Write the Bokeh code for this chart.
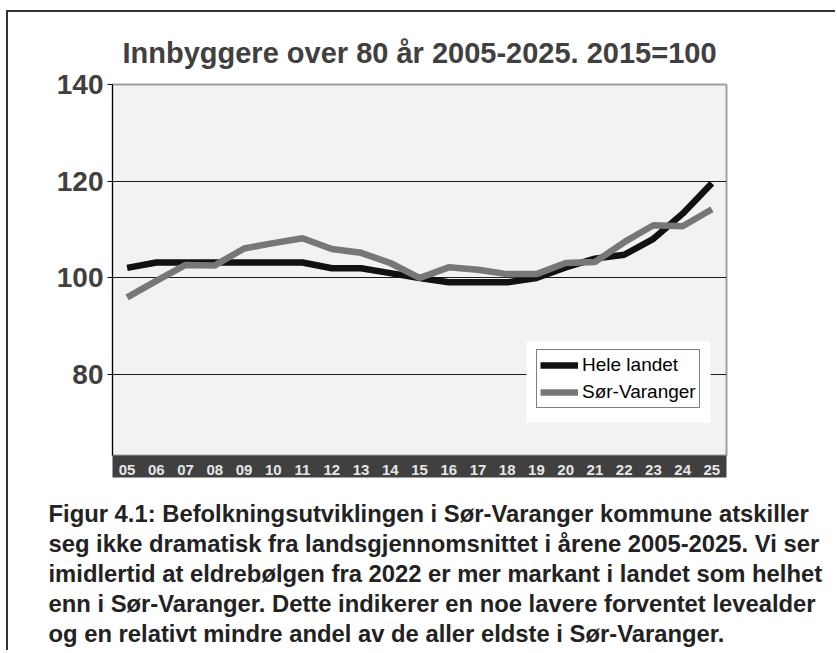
from bokeh.plotting import figure
from bokeh.models import (Range1d, FactorRange, FixedTicker, Legend, LegendItem,
                          BoxAnnotation, Title, ColumnDataSource)
from bokeh.embed import file_html
from bokeh.resources import INLINE

# ---- data ----
years = ["05", "06", "07", "08", "09", "10", "11", "12", "13", "14", "15",
         "16", "17", "18", "19", "20", "21", "22", "23", "24", "25"]
hele_landet = [102.1, 103.2, 103.2, 103.2, 103.2, 103.2, 103.2, 102.0, 102.0, 101.0, 100.0,
               99.1, 99.1, 99.1, 100.0, 102.2, 104.0, 104.8, 108.1, 113.3, 119.6]
sor_varanger = [96.0, 99.4, 102.7, 102.6, 106.1, 107.2, 108.2, 106.0, 105.2, 103.1, 100.0,
                102.2, 101.7, 100.8, 100.8, 103.1, 103.3, 107.4, 110.9, 110.7, 114.2]
y_ticks = [80, 100, 120, 140]
series_names = ["Hele landet", "Sør-Varanger"]
title_text = "Innbyggere over 80 år 2005-2025. 2015=100"
caption_lines = [
    "Figur 4.1: Befolkningsutviklingen i Sør-Varanger kommune atskiller",
    "seg ikke dramatisk fra landsgjennomsnittet i årene 2005-2025. Vi ser",
    "imidlertid at eldrebølgen fra 2022 er mer markant i landet som helhet",
    "enn i Sør-Varanger. Dette indikerer en noe lavere forventet levealder",
    "og en relativt mindre andel av de aller eldste i Sør-Varanger.",
]

FONT = "Liberation Sans"
OX, OY = 6, 10                      # canvas origin on the page (css margin)
W, H = 829, 640
PFL, PFR, PFT, PFB = 112, 726, 84, 455   # frame edges on the page
FL, FR, FT, FB = PFL - OX, PFR - OX, PFT - OY, PFB - OY

src = ColumnDataSource(dict(year=years, hele=hele_landet, sor=sor_varanger))

Y0, Y1 = 63.3, 140
p = figure(width=W, height=H, output_backend="svg", toolbar_location=None,
           x_range=FactorRange(*years, range_padding=0),
           y_range=Range1d(Y0, Y1),
           min_border_left=FL, min_border_right=W - FR,
           min_border_top=FT, min_border_bottom=H - FB)
# outer frame: dark lines along the top and left edge of the chart box
p.styles = {
    "margin-left": "6px", "margin-top": "10px", "margin-bottom": "-20px",
    "vertical-align": "top", "overflow": "hidden",
    "background": ("linear-gradient(#333333, #333333) left top / 100% 2px no-repeat, "
                   "linear-gradient(#333333, #333333) left top / 2px 100% no-repeat"),
}

p.background_fill_color = "#f2f2f2"
p.border_fill_color = None
p.outline_line_color = "#a0a0a0"
p.outline_line_width = 2

# title
p.title.text = title_text
p.title.align = "center"
p.title.text_font = FONT
p.title.text_font_size = "29px"
p.title.text_font_style = "bold"
p.title.text_color = "#404040"
p.title.standoff = 32

# y axis
p.yaxis.ticker = FixedTicker(ticks=y_ticks)
p.yaxis.major_label_text_font = FONT
p.yaxis.major_label_text_font_size = "28px"
p.yaxis.major_label_text_font_style = "bold"
p.yaxis.major_label_text_color = "#404040"
p.yaxis.major_tick_out = 5
p.yaxis.major_tick_in = 0
p.yaxis.minor_tick_line_color = None
p.yaxis.axis_line_color = "black"
p.yaxis.major_tick_line_color = "black"
p.yaxis.major_label_standoff = 4

# x axis
p.xaxis.major_label_text_font = FONT
p.xaxis.major_label_text_font_size = "15px"
p.xaxis.major_label_text_font_style = "bold"
p.xaxis.major_label_text_color = "#e6e6e6"
p.xaxis.major_tick_line_color = None
p.xaxis.axis_line_color = None
p.xaxis.major_label_standoff = 3
try:
    p.xaxis.background_fill_color = "#404040"
except Exception:
    pass

# grid
p.xgrid.grid_line_color = None
p.ygrid.ticker = FixedTicker(ticks=y_ticks)
p.ygrid.grid_line_color = "#1a1a1a"
p.ygrid.grid_line_width = 1

# lines
r_hele = p.line("year", "hele", source=src, line_color="#111111", line_width=6.5)
r_sor = p.line("year", "sor", source=src, line_color="#777777", line_width=6.5)

# helpers: page pixel -> data coordinate (annotation placement only)
n = len(years)
px_x = (PFR - PFL) / n
px_y = (PFB - PFT) / (Y1 - Y0)
def dx(px):
    return (px - PFL) / px_x
def dy(py):
    return Y1 - (py - PFT) / px_y

# white backing behind legend
p.add_layout(BoxAnnotation(left=dx(526), right=dx(710), top=dy(341), bottom=dy(422),
                           fill_color="white", fill_alpha=1, line_color=None))

legend = Legend(items=[LegendItem(label=series_names[0], renderers=[r_hele]),
                       LegendItem(label=series_names[1], renderers=[r_sor])],
                location=(536 - PFL, PFB - 408))
legend.label_text_font = FONT
legend.label_text_font_size = "19px"
legend.label_text_color = "black"
legend.border_line_color = "black"
legend.border_line_width = 1
legend.background_fill_color = "white"
legend.background_fill_alpha = 1
legend.glyph_width = 38
legend.glyph_height = 24
legend.label_height = 24
legend.label_standoff = 4
legend.spacing = 3
legend.padding = 3
legend.margin = 0
p.add_layout(legend)

# spacing between the year band and the caption
p.add_layout(Title(text=" ", text_font_size="1px", standoff=17), "below")

# caption, one title per line below the chart
for line in caption_lines:
    t = Title(text=line, align="left", offset=48 - PFL,
              text_font=FONT, text_font_size="23.8px", text_font_style="bold",
              text_color="#222222", standoff=0.5)
    p.add_layout(t, "below")

open("out.html", "w").write(file_html(p, INLINE))
